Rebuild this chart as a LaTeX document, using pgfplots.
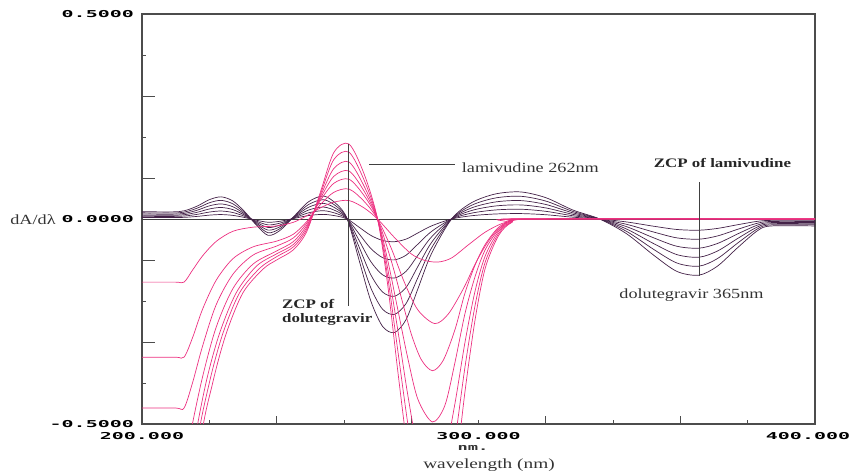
\documentclass[border=0pt]{standalone}
\usepackage{fontspec}
\setmainfont{Liberation Serif}
\newfontfamily\tickfont{DejaVu Sans Mono}
\usepackage{graphicx}
\usepackage{pgfplots}
\usepackage{pgfplotstable}
\pgfplotsset{compat=1.18}
\definecolor{lam}{RGB}{236,48,128}
\definecolor{dol}{RGB}{68,34,72}
\newcommand\tl[1]{\scalebox{2.1}[1]{\tickfont\bfseries\fontsize{9.5bp}{10bp}\selectfont #1}}
\newcommand\tx[1]{\scalebox{1.3}[1]{\fontsize{14bp}{16bp}\selectfont #1}}
\newcommand\tb[1]{\scalebox{1.3}[1]{\fontsize{13bp}{15bp}\selectfont\bfseries #1}}

\pgfplotstableread{
x d1 d2 d3 d4 d5 d6
200 0.0036 0.0065 0.0094 0.0122 0.0151 0.018
211 0.0036 0.0065 0.0094 0.0122 0.0151 0.018
216 0.006 0.0108 0.0156 0.0204 0.0252 0.03
220 0.0094 0.0169 0.0244 0.032 0.0395 0.047
223.5 0.0108 0.0194 0.0281 0.0367 0.0454 0.054
227 0.0088 0.0158 0.0229 0.0299 0.037 0.044
230.5 0.0036 0.0065 0.0094 0.0122 0.0151 0.018
234 -0.003 -0.0054 -0.0078 -0.0102 -0.0126 -0.015
237.5 -0.008 -0.0144 -0.0208 -0.0272 -0.0336 -0.04
241 -0.0056 -0.0101 -0.0146 -0.019 -0.0235 -0.028
245 0.001 0.0018 0.0026 0.0034 0.0042 0.005
249.5 0.0084 0.0151 0.0218 0.0286 0.0353 0.042
254 0.0112 0.0202 0.0291 0.0381 0.047 0.056
258 0.007 0.0126 0.0182 0.0238 0.0294 0.035
261 0 0 0 0 0 0
264.5 -0.02 -0.036 -0.052 -0.068 -0.084 -0.1
268 -0.04 -0.072 -0.104 -0.136 -0.168 -0.2
271.5 -0.0524 -0.0943 -0.1362 -0.1782 -0.2201 -0.262
275 -0.0554 -0.0997 -0.144 -0.1884 -0.2327 -0.277
278.5 -0.049 -0.0882 -0.1274 -0.1666 -0.2058 -0.245
282 -0.034 -0.0612 -0.0884 -0.1156 -0.1428 -0.17
286 -0.017 -0.0306 -0.0442 -0.0578 -0.0714 -0.085
292 0 0 0 0 0 0
298 0.008 0.0144 0.0208 0.0272 0.0336 0.04
305 0.0122 0.022 0.0317 0.0415 0.0512 0.061
312.5 0.0132 0.0238 0.0343 0.0449 0.0554 0.066
320 0.0104 0.0187 0.027 0.0354 0.0437 0.052
328 0.0044 0.0079 0.0114 0.015 0.0185 0.022
336 0 0 0 0 0 0
344 -0.0072 -0.013 -0.0187 -0.0245 -0.0302 -0.036
352 -0.0176 -0.0317 -0.0458 -0.0598 -0.0739 -0.088
359 -0.0256 -0.0461 -0.0666 -0.087 -0.1075 -0.128
365.5 -0.0274 -0.0493 -0.0712 -0.0932 -0.1151 -0.137
371 -0.023 -0.0414 -0.0598 -0.0782 -0.0966 -0.115
377 -0.014 -0.0252 -0.0364 -0.0476 -0.0588 -0.07
383 -0.0056 -0.0101 -0.0146 -0.019 -0.0235 -0.028
387 -0.0034 -0.0061 -0.0088 -0.0116 -0.0143 -0.017
400 -0.0034 -0.0061 -0.0088 -0.0116 -0.0143 -0.017
}\dark

\begin{document}
\begin{tikzpicture}[x=1bp,y=1bp]
\useasboundingbox (-142,-50) rectangle (713,424);
\begin{axis}[at={(0,0)}, anchor=south west, scale only axis, width=673bp, height=410bp,
 xmin=200,xmax=400,ymin=-0.5,ymax=0.5,
 axis line style={draw=black!70, line width=1.1pt},
 tick align=inside, tick pos=left,
 xtick={200,300,400}, xticklabels={\tl{200.000},\tl{300.000},\tl{400.000}\hspace*{14bp}},
 ytick={-0.5,0,0.5}, yticklabels={\tl{-0.5000},\tl{0.0000},\tl{0.5000}},
 major tick length=0pt,
 minor xtick={220,260,300,340,380}, minor ytick={-0.4,-0.2,0.2,0.4},
 minor tick length=4bp,
 extra x ticks={240,280,320,360}, extra x tick labels={},
 extra y ticks={-0.3,-0.1,0.1,0.3}, extra y tick labels={},
 extra x tick style={major tick length=8bp},
 extra y tick style={major tick length=13bp},
 tick style={draw=black!70, line width=0.8pt},
 xticklabel style={anchor=north, inner sep=0pt, yshift=-8bp},
 yticklabel style={anchor=east, inner sep=0pt, xshift=-8bp},
 scaled ticks=false, clip=true,
]
\draw[black!75, line width=0.8bp] (axis cs:200,0) -- (axis cs:400,0);

\addplot[dol, line width=0.7bp, smooth] table[x=x,y=d1]{\dark};
\addplot[dol, line width=0.7bp, smooth] table[x=x,y=d2]{\dark};
\addplot[dol, line width=0.7bp, smooth] table[x=x,y=d3]{\dark};
\addplot[dol, line width=0.7bp, smooth] table[x=x,y=d4]{\dark};
\addplot[dol, line width=0.7bp, smooth] table[x=x,y=d5]{\dark};
\addplot[dol, line width=0.7bp, smooth] table[x=x,y=d6]{\dark};

\addplot[lam, line width=0.7bp, smooth] coordinates {(200,-0.154)(210,-0.154)(212.5,-0.154)(215,-0.125)(218,-0.09)(222,-0.055)(227,-0.03)(233,-0.02)(240,-0.017)(245,-0.008)(249,0.008)(253,0.027)(257,0.041)(261.5,0.045)(266,0.027)(270,0)(275,-0.045)(280,-0.085)(284,-0.101)(288,-0.105)(292,-0.095)(297,-0.063)(302,-0.032)(307,-0.011)(312,-0.001)(316,0)(400,0)};
\addplot[lam, line width=0.7bp, smooth] coordinates {(200,-0.337)(210,-0.337)(212.5,-0.337)(215,-0.29)(218,-0.22)(222,-0.15)(227,-0.097)(233,-0.068)(240,-0.054)(245,-0.037)(249,-0.006)(253,0.035)(257,0.065)(261.5,0.073)(266,0.043)(270,0)(274,-0.07)(278,-0.155)(282,-0.222)(287,-0.255)(291,-0.232)(295.5,-0.17)(299,-0.11)(302,-0.066)(305,-0.032)(308.5,-0.008)(312,0)(400,0)};
\addplot[lam, line width=0.7bp, smooth] coordinates {(200,-0.461)(210,-0.461)(212.5,-0.461)(215,-0.4)(218,-0.31)(222,-0.21)(227,-0.135)(233,-0.088)(240,-0.066)(245,-0.046)(249,-0.01)(253,0.045)(257,0.087)(261.5,0.097)(266,0.057)(270,0)(274,-0.1)(277,-0.19)(280,-0.28)(283,-0.343)(286.3,-0.37)(289.5,-0.345)(293,-0.27)(296,-0.18)(299,-0.112)(302,-0.062)(306,-0.02)(310,-0.003)(313,0)(400,0)};
\addplot[lam, line width=0.7bp, smooth] coordinates {(200,-0.62)(210,-0.62)(212.5,-0.62)(214.5,-0.52)(218,-0.385)(222,-0.265)(227,-0.17)(233,-0.11)(240,-0.078)(245,-0.055)(249,-0.015)(253,0.05)(257,0.104)(261.5,0.117)(266,0.068)(270,0)(273,-0.1)(276,-0.22)(279,-0.34)(282,-0.44)(286.3,-0.495)(290,-0.455)(293,-0.35)(296,-0.23)(299,-0.14)(302,-0.075)(306,-0.026)(310,-0.004)(314,0)(400,0)};
\addplot[lam, line width=0.7bp, smooth] coordinates {(200,-0.75)(210,-0.75)(212.5,-0.75)(215.3,-0.56)(219,-0.4)(223,-0.28)(228,-0.18)(234,-0.115)(240,-0.085)(245,-0.062)(249,-0.02)(253,0.055)(257,0.123)(261.5,0.139)(266,0.08)(270,0)(273,-0.12)(276,-0.27)(279,-0.43)(282,-0.56)(286,-0.62)(290,-0.57)(293,-0.45)(296,-0.3)(299,-0.175)(302,-0.09)(306,-0.03)(310,-0.006)(315,0)(400,0)};
\addplot[lam, line width=0.7bp, smooth] coordinates {(200,-0.88)(210,-0.88)(212.5,-0.88)(216.2,-0.56)(220,-0.4)(224,-0.28)(229,-0.18)(235,-0.12)(240,-0.092)(245,-0.068)(249,-0.025)(253,0.06)(257,0.145)(261.5,0.163)(266,0.095)(270,0)(273,-0.14)(276,-0.32)(279,-0.5)(282,-0.65)(286,-0.74)(290,-0.68)(293,-0.54)(296,-0.36)(299,-0.21)(302,-0.105)(306,-0.035)(310,-0.007)(315.5,0)(400,0)};
\addplot[lam, line width=0.7bp, smooth] coordinates {(200,-1.0)(210,-1.0)(212.5,-1.0)(217.2,-0.56)(221,-0.4)(225,-0.28)(230,-0.18)(236,-0.122)(240,-0.1)(245,-0.075)(249,-0.03)(253,0.065)(257,0.162)(261.5,0.183)(266,0.11)(270,0)(273,-0.16)(276,-0.37)(279,-0.57)(282,-0.74)(286,-0.85)(290,-0.79)(293,-0.63)(296,-0.42)(299,-0.245)(302,-0.12)(306,-0.04)(310,-0.008)(316,0)(400,0)};

\draw[black!75, line width=0.8bp] (axis cs:261.3,0.183) -- (axis cs:261.3,-0.212);
\draw[black!75, line width=0.8bp] (axis cs:267.6,0.134) -- (axis cs:293,0.134);
\draw[black!75, line width=0.8bp] (axis cs:365.5,0.09) -- (axis cs:365.5,-0.139);
\node[anchor=west, inner sep=0pt, text=black!80] at (axis cs:295,0.126) {\tx{lamivudine 262nm}};
\node[inner sep=0pt, text=black!85] at (axis cs:372.5,0.136) {\tb{ZCP of lamivudine}};
\node[inner sep=0pt, text=black!80] at (axis cs:363.3,-0.186) {\tx{dolutegravir 365nm}};
\node[anchor=base west, inner sep=0pt, text=black!85] at (axis cs:241.6,-0.218) {\tb{ZCP of}};
\node[anchor=base west, inner sep=0pt, text=black!85] at (axis cs:241.6,-0.252) {\tb{dolutegravir}};
\end{axis}
\node[text=black!80] at (331,-24) {\scalebox{1.9}[1]{\tickfont\bfseries\fontsize{9bp}{10bp}\selectfont nm.}};
\node[text=black!80] at (347,-41) {\scalebox{1.38}[1]{\fontsize{14bp}{16bp}\selectfont wavelength (nm)}};
\node[text=black!80] at (-109,204) {\tx{dA/dλ}};
\end{tikzpicture}
\end{document}
